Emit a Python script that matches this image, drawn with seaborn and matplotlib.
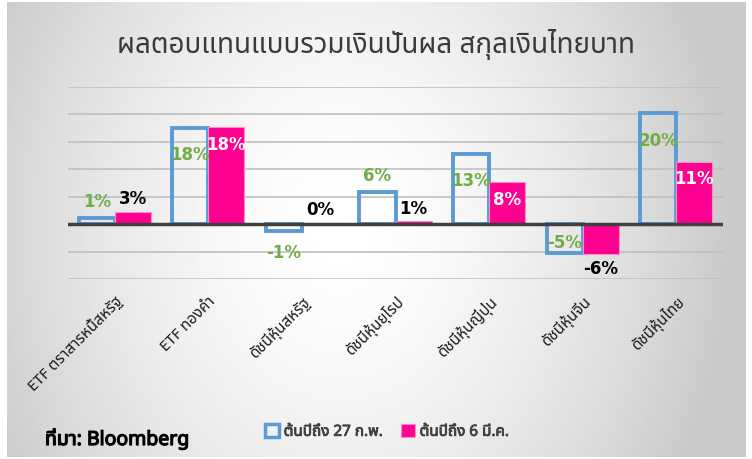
import numpy as np
import pandas as pd
import matplotlib
matplotlib.use("Agg")
import matplotlib.pyplot as plt
import matplotlib.patheffects as pe
from matplotlib import font_manager
from matplotlib.ft2font import FT2Font
from matplotlib.patches import Patch
import seaborn as sns

categories = ["ETF ตราสารหนี้สหรัฐ", "ETF ทองคำ", "ดัชนีหุ้นสหรัฐ", "ดัชนีหุ้นยุโรป",
              "ดัชนีหุ้นญี่ปุ่น", "ดัชนีหุ้นจีน", "ดัชนีหุ้นไทย"]
feb27 = [1.2, 17.6, -1.2, 5.9, 12.8, -5.2, 20.2]
mar6 = [2.3, 17.7, 0.2, 0.5, 7.6, -5.5, 11.4]
feb27_labels = ["1%", "18%", "-1%", "6%", "13%", "-5%", "20%"]
mar6_labels = ["3%", "18%", "0%", "1%", "8%", "-6%", "11%"]
series_names = ["ต้นปีถึง 27 ก.พ.", "ต้นปีถึง 6 มี.ค."]


# find a font that can draw Thai
def find_thai_font():
    preferred = ["Noto Sans Thai", "Noto Sans Thai UI", "Loma", "Garuda", "Norasi",
                 "Tlwg Typo", "Kinnari", "Sawasdee", "Umpush", "Waree", "Laksaman"]
    found = {}
    for f in font_manager.fontManager.ttflist:
        try:
            cmap = FT2Font(f.fname).get_charmap()
        except Exception:
            continue
        if ord("ก") in cmap and ord("ุ") in cmap:
            found.setdefault(f.name, f.fname)
    for p in preferred:
        if p in found:
            return p
    if found:
        return sorted(found)[0]
    return None


thai = find_thai_font()
thai_first = ([thai] if thai else []) + ["DejaVu Sans"]
latin_first = ["DejaVu Sans"] + ([thai] if thai else [])

sns.set_theme(style="white")
plt.rcParams["font.family"] = thai_first

df = pd.DataFrame({
    "cat": categories * 2,
    "val": feb27 + mar6,
    "series": [series_names[0]] * 7 + [series_names[1]] * 7,
})

blue = "#5B9BD5"
pink = "#FF0090"
green = "#70AD47"

fig = plt.figure(figsize=(7.52, 4.60), dpi=100)
fig.patch.set_facecolor("white")

# grey gradient background, lighter in the middle
bg = fig.add_axes([7 / 752, 2 / 460, 739 / 752, 455 / 460], zorder=-10)
gx, gy = np.meshgrid(np.linspace(-1, 1, 400), np.linspace(-1, 1, 250))
r = np.sqrt((gx + 0.1) ** 2 + (gy * 0.5) ** 2)
shade = 1 - 0.19 * np.clip(r, 0, 1.05) ** 1.6
bg.imshow(shade, cmap="gray", vmin=0, vmax=1, aspect="auto", extent=[0, 1, 0, 1])
bg.set_axis_off()

ax = fig.add_axes([68 / 752, 1 - 280 / 460, 655 / 752, 192 / 460])
ax.patch.set_alpha(0)
sns.barplot(data=df, x="cat", y="val", hue="series", palette=[blue, pink],
            width=0.77, gap=0, ax=ax, legend=False, zorder=3)

for bar in ax.containers[0]:
    bar.set_facecolor("none")
    bar.set_edgecolor(blue)
    bar.set_linewidth(2.8)
for bar in ax.containers[1]:
    bar.set_facecolor(pink)
    bar.set_edgecolor("#FF8CC8")
    bar.set_linewidth(0.8)

ax.set_ylim(-10, 25)
ax.set_xlim(-0.5, 6.5)
for yv in range(-10, 30, 5):
    if yv != 0:
        ax.axhline(yv, color="#BFBFBF", lw=1.2, zorder=1)
ax.axhline(0, color="#404040", lw=2.5, zorder=4)
ax.set_yticks([])
ax.set_xlabel("")
ax.set_ylabel("")
for s in ax.spines.values():
    s.set_visible(False)

ax.set_xticks(range(len(categories)))
ax.set_xticklabels(categories, rotation=45, ha="right", rotation_mode="anchor",
                   fontsize=11, color="#1a1a1a")
ax.tick_params(axis="x", length=0, pad=10)

# data labels
lab_kw = dict(textcoords="offset points", ha="center", va="center", fontsize=12,
              fontweight="bold", family=latin_first, zorder=6)
for bar, v, lab in zip(ax.containers[0], feb27, feb27_labels):
    cx = bar.get_x() + bar.get_width() / 2
    inside = abs(v) >= 5 and lab != "6%"
    if inside:
        off = -19 if v > 0 else 8
    else:
        off = 12 if v > 0 else -15
    ax.annotate(lab, (cx, v), xytext=(0, off), color=green, **lab_kw)
for bar, v, lab in zip(ax.containers[1], mar6, mar6_labels):
    cx = bar.get_x() + bar.get_width() / 2
    if v >= 7:
        ax.annotate(lab, (cx, v), xytext=(0, -12), color="white", **lab_kw)
    else:
        off = 10 if v >= 0 else -10
        ax.annotate(lab, (cx, v), xytext=(0, off), color="black", **lab_kw)

fig.text(0.5, 1 - 45 / 460, "ผลตอบแทนแบบรวมเงินปันผล สกุลเงินไทยบาท",
         ha="center", va="center", fontsize=20, color="#3a3a3a")

handles = [Patch(facecolor="none", edgecolor=blue, linewidth=2.5),
           Patch(facecolor=pink, edgecolor="#FF8CC8", linewidth=0.8)]
leg = fig.legend(handles, series_names, loc="center", bbox_to_anchor=(0.515, 1 - 433 / 460),
                 ncol=2, frameon=False, handlelength=0.9, handleheight=0.9,
                 handletextpad=0.3, columnspacing=1.2, labelcolor="#404040",
                 prop={"size": 11})
for t in leg.get_texts():
    t.set_path_effects([pe.withStroke(linewidth=0.6, foreground="#404040")])

src = fig.text(45 / 752, 1 - 440 / 460, "ที่มา: Bloomberg", ha="left", va="center",
               fontsize=14, color="black")
src.set_path_effects([pe.withStroke(linewidth=0.9, foreground="black")])

fig.savefig("out.png", dpi=100)
